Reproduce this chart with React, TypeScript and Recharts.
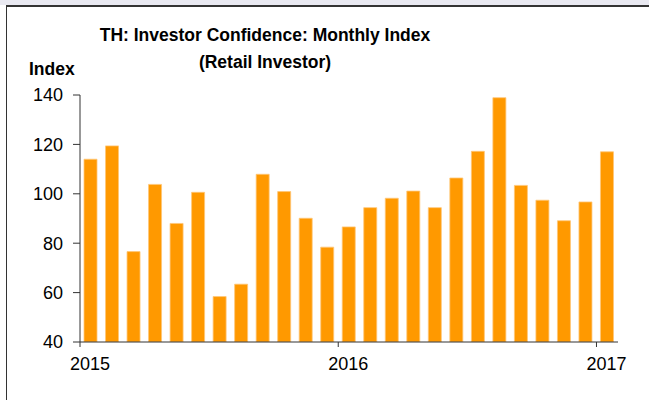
import React from "react";
import { BarChart, Bar, XAxis, YAxis } from "recharts";

// Jan 2015 .. Jan 2017, one bar per month
const months = [
  "2015-01", "2015-02", "2015-03", "2015-04", "2015-05", "2015-06",
  "2015-07", "2015-08", "2015-09", "2015-10", "2015-11", "2015-12",
  "2016-01", "2016-02", "2016-03", "2016-04", "2016-05", "2016-06",
  "2016-07", "2016-08", "2016-09", "2016-10", "2016-11", "2016-12",
  "2017-01",
];
const retailIndex = [
  114.0, 119.4, 76.6, 103.8, 88.0, 100.6, 58.4, 63.4, 107.9, 100.9, 90.1, 78.4,
  86.6, 94.4, 98.2, 101.1, 94.4, 106.4, 117.2, 138.9, 103.4, 97.4, 89.1, 96.7,
  117.0,
];
const yearTicks = [0, 12, 24];
const yearLabels = ["2015", "2016", "2017"];
const yTicks = [40, 60, 80, 100, 120, 140];

const data = months.map((m, i) => ({ month: m, pos: i + 0.5, value: retailIndex[i] }));

const font = "Arial, 'Liberation Sans', sans-serif";

const YearTick = (props: any) => {
  const { x, y, payload } = props;
  const idx = yearTicks.indexOf(payload.value);
  return (
    <text x={x + 10} y={y + 8} textAnchor="middle" dominantBaseline="hanging" fill="#000" fontSize={18} fontFamily={font}>
      {yearLabels[idx]}
    </text>
  );
};

const App = () => {
  return (
    <div style={{ position: "absolute", left: 0, top: 0, width: 649, height: 400, background: "#fff", overflow: "hidden" }}>
      <div style={{ position: "absolute", left: 0, top: 0, width: 649, height: 5, background: "#e9e9f1" }} />
      <div
        style={{
          position: "absolute",
          left: 6,
          top: 5,
          width: 643,
          height: 395,
          borderTop: "2px solid #333",
          borderLeft: "1px solid #333",
          background: "#fff",
        }}
      />
      <div
        style={{
          position: "absolute",
          left: 65,
          width: 400,
          top: 22,
          textAlign: "center",
          fontFamily: font,
          fontWeight: "bold",
          fontSize: 17.5,
          lineHeight: "27px",
          color: "#000",
        }}
      >
        TH: Investor Confidence: Monthly Index
        <br />
        (Retail Investor)
      </div>
      <div
        style={{
          position: "absolute",
          left: 29,
          top: 59,
          fontFamily: font,
          fontWeight: "bold",
          fontSize: 17.5,
          color: "#000",
        }}
      >
        Index
      </div>
      <div style={{ position: "absolute", left: 0, top: 0 }}>
        <BarChart width={649} height={400} data={data} margin={{ top: 95, right: 31, bottom: 28, left: 20 }}>
          <XAxis
            dataKey="pos"
            type="number"
            domain={[0, 25]}
            ticks={yearTicks}
            interval={0}
            tick={<YearTick />}
            tickSize={5}
            height={30}
            stroke="#333"
          />
          <YAxis
            type="number"
            domain={[40, 140]}
            ticks={yTicks}
            interval={0}
            width={60}
            tickSize={7}
            tickMargin={10}
            stroke="#333"
            tick={{ fill: "#000", fontSize: 18, fontFamily: font }}
            allowDataOverflow
          />
          <Bar dataKey="value" fill="#ff9900" stroke="#ffc777" strokeWidth={0.8} barSize={13} isAnimationActive={false} />
        </BarChart>
      </div>
    </div>
  );
};

export default App;
